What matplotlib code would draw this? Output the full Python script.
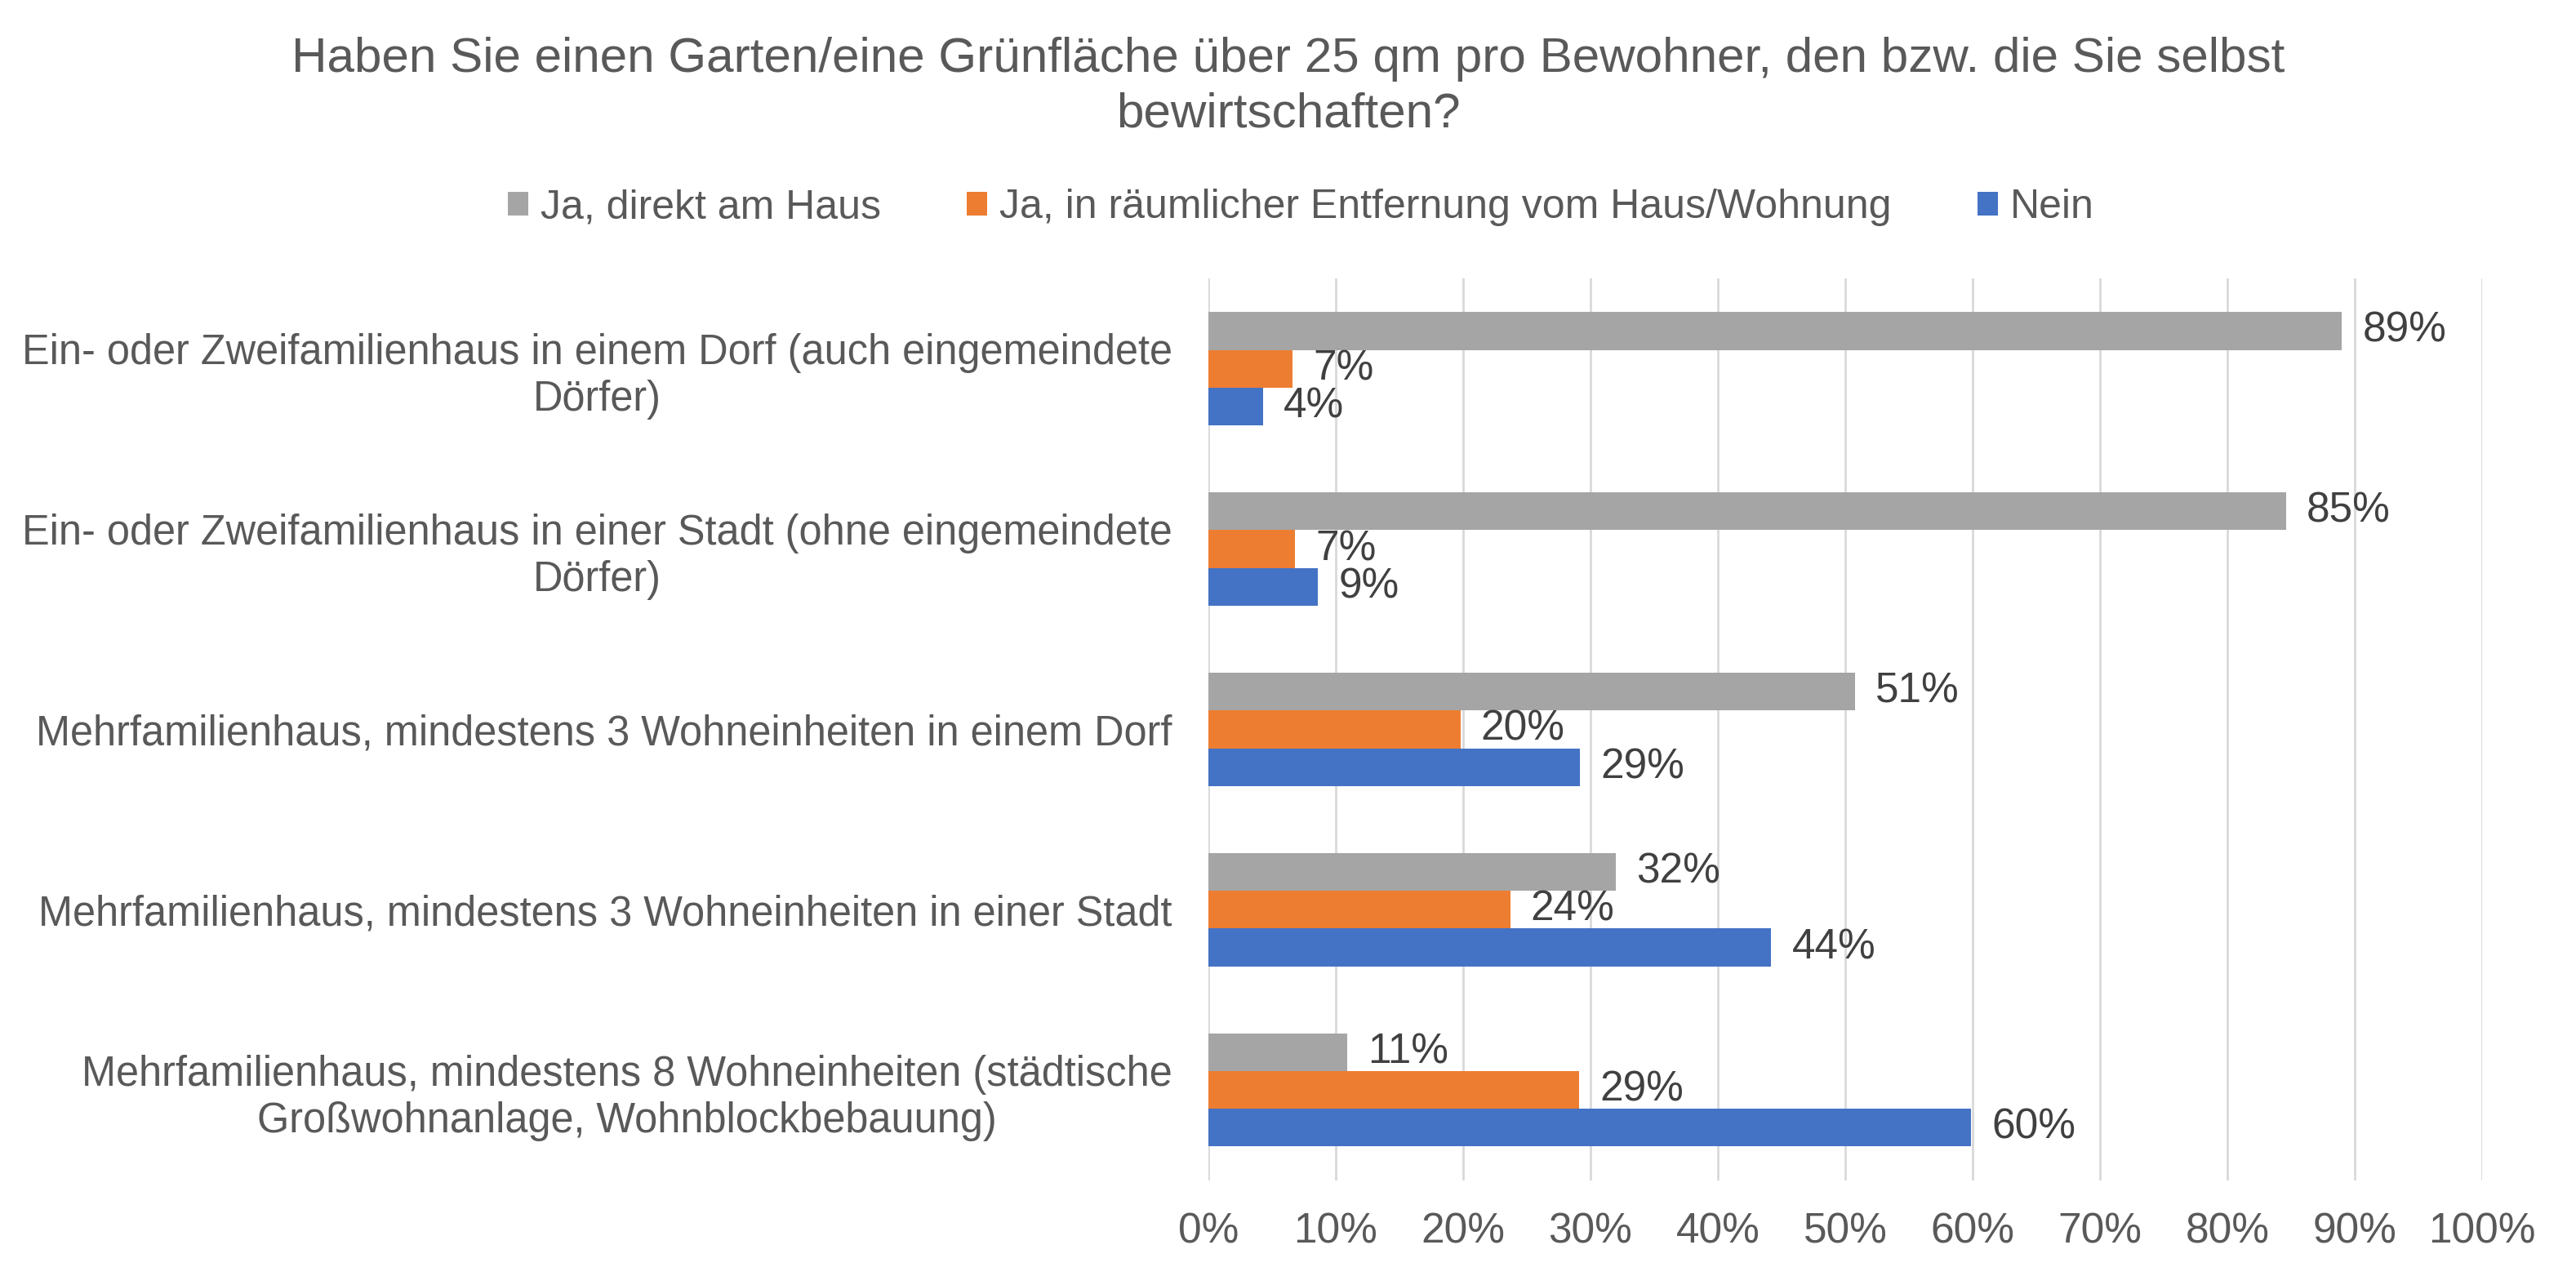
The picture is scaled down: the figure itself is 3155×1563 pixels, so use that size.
import matplotlib
matplotlib.use("Agg")
import matplotlib.pyplot as plt
import numpy as np

plt.rcParams['font.family'] = ['Liberation Sans', 'DejaVu Sans']

title = ("Haben Sie einen Garten/eine Grünfläche über 25 qm pro Bewohner, den bzw. die Sie selbst\n"
         "bewirtschaften?")
categories = [
    "Ein- oder Zweifamilienhaus in einem Dorf (auch eingemeindete\nDörfer)",
    "Ein- oder Zweifamilienhaus in einer Stadt (ohne eingemeindete\nDörfer)",
    "Mehrfamilienhaus, mindestens 3 Wohneinheiten in einem Dorf",
    "Mehrfamilienhaus, mindestens 3 Wohneinheiten in einer Stadt",
    "Mehrfamilienhaus, mindestens 8 Wohneinheiten (städtische\nGroßwohnanlage, Wohnblockbebauung)",
]
series_names = ["Ja, direkt am Haus",
                "Ja, in räumlicher Entfernung vom Haus/Wohnung",
                "Nein"]
direkt = [89.0, 84.6, 50.8, 32.0, 10.9]
entfernt = [6.6, 6.8, 19.8, 23.7, 29.1]
nein = [4.3, 8.6, 29.2, 44.2, 59.9]
colors = ["#A5A5A5", "#ED7D31", "#4472C4"]

fig = plt.figure(figsize=(15.775, 7.815), dpi=200)
ax = fig.add_axes([0.4691, 0.0749, 0.4944, 0.7069])

y = np.arange(len(categories))
h = 0.625 / 3
for i, (vals, name, col) in enumerate(zip([direkt, entfernt, nein], series_names, colors)):
    bars = ax.barh(y - h + i * h, vals, height=h, color=col, label=name, zorder=3)
    for b, v in zip(bars, vals):
        ax.annotate(f"{v:.0f}%", (b.get_width(), b.get_y() + b.get_height() / 2),
                    xytext=(9, 0), textcoords="offset points", va="center", ha="left",
                    fontsize=18.5, color="#404040")

ax.set_xlim(0, 100)
ax.set_ylim(len(categories) - 0.5, -0.5)
ax.set_xticks(np.arange(0, 101, 10))
ax.set_xticklabels([f"{t}%" for t in range(0, 101, 10)])
ax.set_yticks(y)
ax.set_yticklabels(categories)
for lbl in ax.get_yticklabels():
    lbl.set_multialignment("center")
ax.tick_params(axis="both", length=0, labelsize=18.5, labelcolor="#595959")
ax.tick_params(axis="y", pad=16, labelsize=18.2)
ax.tick_params(axis="x", pad=14)
ax.grid(axis="x", color="#D9D9D9", linewidth=1.0, zorder=0)
for s in ax.spines.values():
    s.set_visible(False)

fig.text(0.5, 1 - 106 / 1563, title, ha="center", va="center", fontsize=21.7,
         color="#595959", linespacing=1.3)
fig.legend(loc="center", bbox_to_anchor=(0.505, 1 - 254 / 1563), ncol=3, frameon=False,
           fontsize=18, labelcolor="#595959", handlelength=0.5, handleheight=0.5,
           handletextpad=0.3, columnspacing=2.1)

fig.savefig("out.png", dpi=200, facecolor="white")
